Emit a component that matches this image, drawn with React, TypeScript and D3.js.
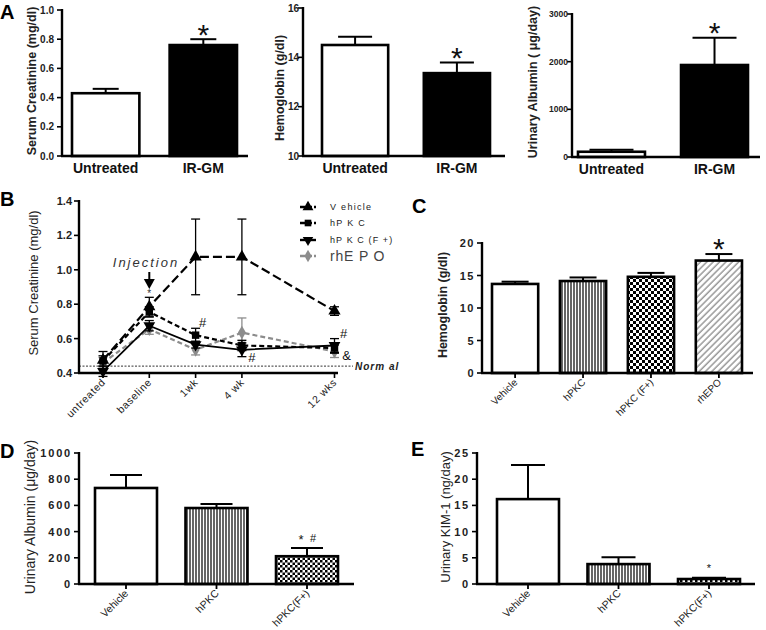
import React from 'react';
import * as d3 from 'd3';

const FONT = "'Liberation Sans', Arial, Helvetica, sans-serif";
const NARROW = "'Liberation Sans Narrow', 'Liberation Sans', Arial, sans-serif";

// ---------- Panel A ----------
const aGroups = ['Untreated', 'IR-GM'];
const aCreatinine = [0.43, 0.76];
const aCreatinineErr = [0.03, 0.04];
const aCreatTicks = [0, 0.2, 0.4, 0.6, 0.8, 1.0];
const aHemoglobin = [14.5, 13.36];
const aHemoglobinErr = [0.33, 0.43];
const aHgbTicks = [10, 12, 14, 16];
const aAlbumin = [110, 1930];
const aAlbuminErr = [40, 570];
const aAlbTicks = [0, 1000, 2000, 3000];

// ---------- Panel B ----------
const bTimepoints = ['untreated', 'baseline', '1wk', '4 wk', '12 wks'];
const bSlots = [0, 1, 2, 3, 5];
const bTicks = [0.4, 0.6, 0.8, 1.0, 1.2, 1.4];
const bVehicle = [0.475, 0.785, 1.075, 1.075, 0.76];
const bVehicleErr = [0.05, 0.055, 0.22, 0.22, 0.025];
const bHPKC = [0.47, 0.755, 0.62, 0.56, 0.545];
const bHPKCErr = [0.03, 0.03, 0.04, 0.03, 0.03];
const bHPKCF = [0.41, 0.675, 0.565, 0.535, 0.56];
const bHPKCFErr = [0.03, 0.03, 0.02, 0.04, 0.04];
const bRhEPO = [0.46, 0.655, 0.535, 0.635, 0.525];
const bRhEPOErr = [0.03, 0.03, 0.03, 0.085, 0.035];
const bNormal = 0.44;

// ---------- Panel C ----------
const cGroups = ['Vehicle', 'hPKC', 'hPKC (F+)', 'rhEPO'];
const cHemoglobin = [13.7, 14.15, 14.8, 17.3];
const cHemoglobinErr = [0.35, 0.55, 0.6, 1.0];
const cTicks = [0, 5, 10, 15, 20];

// ---------- Panel D ----------
const dGroups = ['Vehicle', 'hPKC', 'hPKC(F+)'];
const dAlbumin = [733, 580, 212];
const dAlbuminErr = [100, 30, 63];
const dTicks = [0, 200, 400, 600, 800, 1000];

// ---------- Panel E ----------
const eGroups = ['Vehicle', 'hPKC', 'hPKC(F+)'];
const eKim = [16.2, 3.8, 0.95];
const eKimErr = [6.5, 1.3, 0.25];
const eTicks = [0, 5, 10, 15, 20, 25];

type Mark = { i: number; text: string; size: number; dx?: number };

type BarPanelProps = {
  cats: string[]; values: number[]; errs: number[]; fills: string[];
  domain: [number, number]; ticks: number[]; tickFmt: (v: number) => string;
  x0: number; xEnd: number; yTop: number; yBot: number;
  barRange: [number, number]; padding: number; cap: number;
  yLabel: string; yLabelX: number; yLabelY: number; yLabelSize: number; yLabelWeight: any;
  tickFamily: string; tickSize: number; tickWeight: any; tickSpacing: number; tickGap: number;
  catMode: 'flat' | 'rot'; catSize: number;
  xTickMarks: boolean; marks: Mark[];
};

const R = Math.SQRT1_2;
const diag = (tx: number, ty: number) => `matrix(${R},${-R},${R},${R},${tx},${ty})`;

function BarPanel(p: BarPanelProps) {
  const y = d3.scaleLinear().domain(p.domain).range([p.yBot, p.yTop]);
  const x = d3.scaleBand().domain(p.cats).range(p.barRange).paddingInner(p.padding).paddingOuter(0);
  const bw = x.bandwidth();
  return (
    <g>
      {p.cats.map((c, i) => {
        const cx = (x(c) as number) + bw / 2;
        const top = y(p.values[i]);
        const et = y(p.values[i] + p.errs[i]);
        return (
          <g key={c}>
            <line x1={cx} x2={cx} y1={top} y2={et} stroke="#000" strokeWidth={2} />
            <line x1={cx - p.cap / 2} x2={cx + p.cap / 2} y1={et} y2={et} stroke="#000" strokeWidth={2} />
            <rect x={x(c)} y={top} width={bw} height={p.yBot - top} fill={p.fills[i]} stroke="#000" strokeWidth={2.6} />
          </g>
        );
      })}
      <line x1={p.x0} x2={p.x0} y1={p.yTop - 1} y2={p.yBot} stroke="#000" strokeWidth={2.4} />
      <line x1={p.x0 - 1} x2={p.xEnd} y1={p.yBot} y2={p.yBot} stroke="#000" strokeWidth={2.4} />
      {p.ticks.map((t) => (
        <g key={t}>
          <line x1={p.x0 - 5} x2={p.x0} y1={y(t)} y2={y(t)} stroke="#000" strokeWidth={1.6} />
          <text x={p.x0 - p.tickGap} y={y(t)} textAnchor="end" dominantBaseline="central"
            fontFamily={p.tickFamily} fontSize={p.tickSize} fontWeight={p.tickWeight}
            letterSpacing={p.tickSpacing} fill="#222">{p.tickFmt(t)}</text>
        </g>
      ))}
      {p.cats.map((c) => {
        const cx = (x(c) as number) + bw / 2;
        return (
          <g key={'l' + c}>
            {p.xTickMarks && <line x1={cx} x2={cx} y1={p.yBot} y2={p.yBot + 5} stroke="#000" strokeWidth={1.8} />}
            {p.catMode === 'flat' ? (
              <text x={cx} y={p.yBot + 17} textAnchor="middle" fontFamily={FONT} fontWeight="bold" fontSize={p.catSize} fill="#111">{c}</text>
            ) : (
              <text transform={diag(cx + 3, p.yBot + 10)} textAnchor="end"
                fontFamily={FONT} fontSize={p.catSize} fill="#222">{c}</text>
            )}
          </g>
        );
      })}
      {p.marks.map((m, k) => {
        const c = p.cats[m.i];
        const cx = (x(c) as number) + bw / 2 + (m.dx || 0);
        const et = y(p.values[m.i] + p.errs[m.i]);
        const center = et - 12;
        return (
          <text key={'m' + k} x={cx} y={center + m.size * 0.58} textAnchor="middle"
            fontFamily={FONT} fontSize={m.size} fill="#111">{m.text}</text>
        );
      })}
      <text transform={`translate(${p.yLabelX},${p.yLabelY}) rotate(-90)`} textAnchor="middle" dominantBaseline="central"
        fontFamily={FONT} fontSize={p.yLabelSize} fontWeight={p.yLabelWeight} fill="#222">{p.yLabel}</text>
    </g>
  );
}

function PanelB() {
  const x = d3.scaleLinear().domain([0, 5]).range([103, 334.5]);
  const y = d3.scaleLinear().domain([0.4, 1.4]).range([373, 201]);
  const x0 = 79, xEnd = 338, yBot = 373;
  const line = d3.line<number>().x((_, i) => x(bSlots[i])).y((v) => y(v));
  const series = [
    { name: 'rhEPO', vals: bRhEPO, errs: bRhEPOErr, color: '#8c8c8c', dash: '5,3', w: 2.2, sym: d3.symbolDiamond, size: 55, rot: 0 },
    { name: 'hPKC (F+)', vals: bHPKCF, errs: bHPKCFErr, color: '#000', dash: 'none', w: 1.8, sym: d3.symbolTriangle, size: 60, rot: 180 },
    { name: 'hPKC', vals: bHPKC, errs: bHPKCErr, color: '#000', dash: '5,3', w: 2.2, sym: d3.symbolSquare, size: 55, rot: 0 },
    { name: 'Vehicle', vals: bVehicle, errs: bVehicleErr, color: '#000', dash: '9,4', w: 2.2, sym: d3.symbolTriangle, size: 65, rot: 0 },
  ];
  const legend = [
    { label: 'V ehicle', s: series[3], y: 207, size: 9, spacing: 1.3, color: '#222' },
    { label: 'hP K C', s: series[2], y: 223, size: 9, spacing: 1.3, color: '#222' },
    { label: 'hP K C (F +)', s: series[1], y: 240, size: 9, spacing: 1.1, color: '#222' },
    { label: 'rhE P O', s: series[0], y: 256, size: 14, spacing: 0.8, color: '#444' },
  ];
  return (
    <g>
      <line x1={x0} x2={353} y1={y(bNormal)} y2={y(bNormal)} stroke="#333" strokeWidth={1} strokeDasharray="2,1.5" />
      <text x={355} y={y(bNormal) + 4} fontFamily={FONT} fontStyle="italic" fontWeight="bold" fontSize={10} letterSpacing={1} fill="#222">Norm al</text>
      {series.map((s) => (
        <g key={s.name}>
          <path d={line(s.vals) || ''} fill="none" stroke={s.color} strokeWidth={s.w} strokeDasharray={s.dash} />
          {s.vals.map((v, i) => {
            const cx = x(bSlots[i]);
            const t = y(v + s.errs[i]);
            const b = y(v - s.errs[i]);
            return (
              <g key={i}>
                <line x1={cx} x2={cx} y1={t} y2={b} stroke={s.color} strokeWidth={1.3} />
                <line x1={cx - 4.5} x2={cx + 4.5} y1={t} y2={t} stroke={s.color} strokeWidth={1.3} />
                <line x1={cx - 4.5} x2={cx + 4.5} y1={b} y2={b} stroke={s.color} strokeWidth={1.3} />
                <path d={d3.symbol().type(s.sym).size(s.size)() || ''} transform={`translate(${cx},${y(v)}) rotate(${s.rot})`} fill={s.color} />
              </g>
            );
          })}
        </g>
      ))}
      <line x1={x0} x2={x0} y1={200} y2={yBot} stroke="#000" strokeWidth={2.4} />
      <line x1={x0 - 1} x2={xEnd} y1={yBot} y2={yBot} stroke="#000" strokeWidth={2.4} />
      {bTicks.map((t) => (
        <g key={t}>
          <line x1={x0 - 5} x2={x0} y1={y(t)} y2={y(t)} stroke="#000" strokeWidth={1.6} />
          <text x={x0 - 7} y={y(t)} textAnchor="end" dominantBaseline="central" fontFamily={FONT} fontWeight="bold" fontSize={11} fill="#222">{t.toFixed(1)}</text>
        </g>
      ))}
      {bTimepoints.map((lab, i) => {
        const cx = x(bSlots[i]);
        return (
          <g key={'tp' + i}>
            <line x1={cx} x2={cx} y1={yBot} y2={yBot + 5} stroke="#000" strokeWidth={1.6} />
            <text x={0} y={0} textAnchor="end" fontFamily={FONT} fontSize={10.5} letterSpacing={0.6} fill="#222"
              style={{ transform: `translate(${cx + 3}px, ${yBot + 10}px) rotate(-45deg)`, transformOrigin: '0px 0px', transformBox: 'view-box' }}>{lab}</text>
          </g>
        );
      })}
      {/* annotations */}
      <text x={x(1)} y={297} textAnchor="middle" fontFamily={FONT} fontSize={10} fill="#333">*</text>
      <text x={x(2) + 7} y={327} textAnchor="middle" fontFamily={FONT} fontSize={13} fill="#111">#</text>
      <text x={x(3) + 10} y={362} textAnchor="middle" fontFamily={FONT} fontSize={13} fill="#111">#</text>
      <text x={x(5) + 9} y={338} textAnchor="middle" fontFamily={FONT} fontSize={13} fill="#111">#</text>
      <text x={x(5) + 12} y={360} textAnchor="middle" fontFamily={FONT} fontSize={13} fill="#111">&amp;</text>
      <line x1={x(1)} x2={x(1)} y1={272} y2={281} stroke="#000" strokeWidth={2} />
      <path d={`M${x(1) - 5.5},279 L${x(1) + 5.5},279 L${x(1)},289 Z`} fill="#000" />
      <text x={146} y={267} textAnchor="middle" fontFamily={FONT} fontStyle="italic" fontSize={13} letterSpacing={2} fill="#333">Injection</text>
      {legend.map((l) => (
        <g key={l.label}>
          <line x1={300} x2={316} y1={l.y} y2={l.y} stroke={l.s.color} strokeWidth={2.4} strokeDasharray={l.s.dash === 'none' ? 'none' : '5,2'} />
          <path d={d3.symbol().type(l.s.sym).size(l.s.size * 0.8)() || ''} transform={`translate(308,${l.y}) rotate(${l.s.rot})`} fill={l.s.color} />
          <text x={330} y={l.y} dominantBaseline="central" fontFamily={FONT} fontSize={l.size} letterSpacing={l.spacing} fill={l.color}>{l.label}</text>
        </g>
      ))}
      <text transform="translate(33,283) rotate(-90)" textAnchor="middle" dominantBaseline="central" fontFamily={FONT} fontSize={13} fill="#222">Serum Creatinine (mg/dl)</text>
    </g>
  );
}

export default function App() {
  const letter = (t: string, xx: number, yy: number) => (
    <text x={xx} y={yy} fontFamily={FONT} fontWeight="bold" fontSize={20} fill="#000">{t}</text>
  );
  const fmt1 = (v: number) => v.toFixed(1);
  const fmt0 = (v: number) => String(v);
  return (
    <svg width={766} height={630} style={{ position: 'absolute', left: 0, top: 0, background: '#fff' }}>
      <defs>
        <pattern id="vstripe" width={3} height={10} patternUnits="userSpaceOnUse">
          <rect width={3} height={10} fill="#fff" />
          <line x1={1} x2={1} y1={0} y2={10} stroke="#000" strokeWidth={1.2} />
        </pattern>
        <pattern id="checker" width={6} height={6} patternUnits="userSpaceOnUse">
          <rect width={6} height={6} fill="#fff" />
          <rect width={3} height={3} fill="#000" />
          <rect x={3} y={3} width={3} height={3} fill="#000" />
        </pattern>
        <pattern id="checkerSmall" width={5} height={5} patternUnits="userSpaceOnUse">
          <rect width={5} height={5} fill="#fff" />
          <rect width={2.5} height={2.5} fill="#000" />
          <rect x={2.5} y={2.5} width={2.5} height={2.5} fill="#000" />
        </pattern>
        <pattern id="hatch" width={4.5} height={10} patternUnits="userSpaceOnUse" patternTransform="rotate(45)">
          <rect width={4.5} height={10} fill="#fff" />
          <line x1={1} x2={1} y1={0} y2={10} stroke="#666" strokeWidth={1} />
        </pattern>
      </defs>
      <rect width={766} height={630} fill="#fff" />
      {letter('A', 0, 19)}
      {letter('B', 0, 206)}
      {letter('C', 412, 213)}
      {letter('D', 0, 458)}
      {letter('E', 411, 456)}

      <BarPanel cats={aGroups} values={aCreatinine} errs={aCreatinineErr} fills={['#fff', '#000']}
        domain={[0, 1]} ticks={aCreatTicks} tickFmt={fmt1} x0={62} xEnd={248} yTop={10} yBot={156}
        barRange={[72, 237]} padding={0.31} cap={26}
        yLabel="Serum Creatinine (mg/dl)" yLabelX={32} yLabelY={81} yLabelSize={12.5} yLabelWeight="bold"
        tickFamily={FONT} tickSize={10} tickWeight="bold" tickSpacing={0} tickGap={8}
        catMode="flat" catSize={14} xTickMarks={false} marks={[{ i: 1, text: '*', size: 30 }]} />

      <BarPanel cats={aGroups} values={aHemoglobin} errs={aHemoglobinErr} fills={['#fff', '#000']}
        domain={[10, 16]} ticks={aHgbTicks} tickFmt={fmt0} x0={303} xEnd={505} yTop={8} yBot={156}
        barRange={[322, 490]} padding={0.35} cap={34}
        yLabel="Hemoglobin (g/dl)" yLabelX={280} yLabelY={88} yLabelSize={12.5} yLabelWeight="bold"
        tickFamily={FONT} tickSize={10} tickWeight="bold" tickSpacing={0} tickGap={4}
        catMode="flat" catSize={14} xTickMarks={false} marks={[{ i: 1, text: '*', size: 30 }]} />

      <BarPanel cats={aGroups} values={aAlbumin} errs={aAlbuminErr} fills={['#fff', '#000']}
        domain={[0, 3000]} ticks={aAlbTicks} tickFmt={fmt0} x0={572} xEnd={760} yTop={14} yBot={157}
        barRange={[578, 748]} padding={0.35} cap={44}
        yLabel="Urinary Albumin ( μg/day)" yLabelX={533} yLabelY={82} yLabelSize={12.5} yLabelWeight="bold"
        tickFamily={FONT} tickSize={8.5} tickWeight="bold" tickSpacing={0} tickGap={4}
        catMode="flat" catSize={14} xTickMarks={false} marks={[{ i: 1, text: '*', size: 30 }]} />

      <PanelB />

      <BarPanel cats={cGroups} values={cHemoglobin} errs={cHemoglobinErr} fills={['#fff', 'url(#vstripe)', 'url(#checker)', 'url(#hatch)']}
        domain={[0, 20]} ticks={cTicks} tickFmt={fmt0} x0={482} xEnd={753} yTop={243} yBot={373}
        barRange={[492, 742]} padding={0.32} cap={27}
        yLabel="Hemoglobin (g/dl)" yLabelX={443} yLabelY={305} yLabelSize={12.5} yLabelWeight="bold"
        tickFamily={NARROW} tickSize={11} tickWeight="bold" tickSpacing={1.5} tickGap={7}
        catMode="rot" catSize={10} xTickMarks={true} marks={[{ i: 3, text: '*', size: 30 }]} />

      <BarPanel cats={dGroups} values={dAlbumin} errs={dAlbuminErr} fills={['#fff', 'url(#vstripe)', 'url(#checkerSmall)']}
        domain={[0, 1000]} ticks={dTicks} tickFmt={fmt0} x0={79} xEnd={354} yTop={453} yBot={584}
        barRange={[95, 338]} padding={0.315} cap={32}
        yLabel="Urinary Albumin  (μg/day)" yLabelX={30} yLabelY={517} yLabelSize={14} yLabelWeight="normal"
        tickFamily={NARROW} tickSize={11} tickWeight="bold" tickSpacing={1.8} tickGap={7}
        catMode="rot" catSize={10.5} xTickMarks={true} marks={[{ i: 2, text: '*', size: 13, dx: -6 }, { i: 2, text: '#', size: 11, dx: 6 }]} />

      <BarPanel cats={eGroups} values={eKim} errs={eKimErr} fills={['#fff', 'url(#vstripe)', 'url(#checkerSmall)']}
        domain={[0, 25]} ticks={eTicks} tickFmt={fmt0} x0={477} xEnd={755} yTop={453} yBot={584}
        barRange={[497, 740]} padding={0.315} cap={34}
        yLabel="Urinary KIM-1 (ng/day)" yLabelX={445} yLabelY={517} yLabelSize={13} yLabelWeight="normal"
        tickFamily={NARROW} tickSize={11} tickWeight="bold" tickSpacing={1.8} tickGap={7}
        catMode="rot" catSize={10.5} xTickMarks={true} marks={[{ i: 2, text: '*', size: 11 }]} />
    </svg>
  );
}
